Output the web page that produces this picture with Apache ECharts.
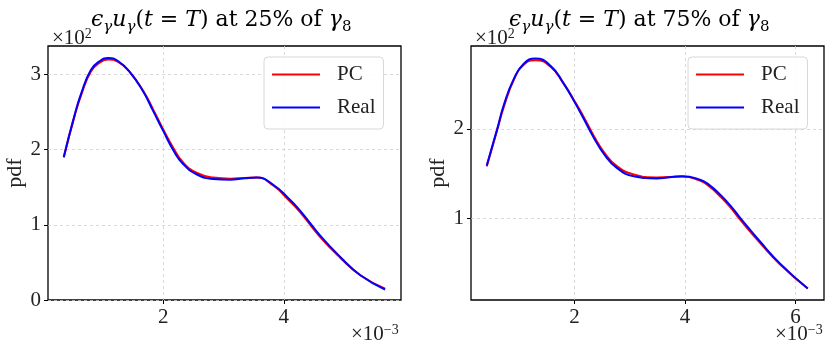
<!DOCTYPE html>
<html>
<head>
<meta charset="utf-8">
<script src="https://cdn.jsdelivr.net/npm/echarts@6/dist/echarts.min.js"></script>
<style>
  html, body { margin: 0; padding: 0; background: #fff; }
  #chart { width: 830px; height: 358px; }
</style>
</head>
<body>
<div id="chart"></div>
<script>
// x values in units of 1e-3, pdf values in units of 1e2
const leftX    = [0.35, 0.53, 0.64, 0.80, 0.95, 1.09, 1.25, 1.45, 1.67, 1.83, 2.00, 2.17, 2.33, 2.56, 2.83, 3.11, 3.35, 3.55, 3.83, 4.08, 4.27, 4.60, 4.94, 5.27, 5.68];
const leftReal = [1.90, 2.46, 2.75, 3.06, 3.18, 3.22, 3.18, 3.03, 2.77, 2.52, 2.25, 1.99, 1.81, 1.67, 1.61, 1.60, 1.62, 1.63, 1.53, 1.35, 1.19, 0.86, 0.57, 0.33, 0.14];
const leftPC   = [1.90, 2.45, 2.73, 3.04, 3.16, 3.20, 3.17, 3.03, 2.78, 2.54, 2.27, 2.02, 1.83, 1.69, 1.63, 1.615, 1.625, 1.63, 1.52, 1.33, 1.17, 0.84, 0.56, 0.33, 0.15];

const rightX    = [0.41, 0.60, 0.72, 0.90, 1.08, 1.29, 1.56, 1.80, 2.00, 2.16, 2.34, 2.53, 2.77, 3.07, 3.49, 3.95, 4.27, 4.44, 4.64, 4.82, 5.00, 5.36, 5.72, 6.22];
const rightReal = [1.59, 2.00, 2.27, 2.56, 2.73, 2.79, 2.71, 2.51, 2.30, 2.12, 1.91, 1.72, 1.56, 1.47, 1.445, 1.47, 1.43, 1.37, 1.26, 1.14, 1.00, 0.735, 0.49, 0.21];
const rightPC   = [1.58, 1.99, 2.25, 2.55, 2.72, 2.77, 2.70, 2.51, 2.31, 2.14, 1.93, 1.74, 1.58, 1.49, 1.455, 1.465, 1.42, 1.355, 1.24, 1.12, 0.98, 0.72, 0.48, 0.21];

const leftXTicks = [2, 4];
const leftYTicks = [0, 1, 2, 3];
const rightXTicks = [2, 4, 6];
const rightYTicks = [1, 2];

const zip = (xs, ys) => xs.map((x, i) => [x, ys[i]]);

const font = 'Liberation Serif';
const tfont = 'DejaVu Serif';
const rich = {
  r:   { fontFamily: tfont, fontSize: 22, lineHeight: 30, fontWeight: 'normal', color: '#000' },
  i:   { fontFamily: tfont, fontSize: 22, lineHeight: 30, fontWeight: 'normal', fontStyle: 'italic', color: '#000' },
  sub: { fontFamily: tfont, fontSize: 15, lineHeight: 14, fontWeight: 'normal', verticalAlign: 'bottom', fontStyle: 'italic', color: '#000' },
  subr:{ fontFamily: tfont, fontSize: 15, lineHeight: 14, fontWeight: 'normal', verticalAlign: 'bottom', color: '#000' },
  o:   { fontFamily: font, fontSize: 21, lineHeight: 22, fontWeight: 'normal', color: '#222' },
  sup: { fontFamily: font, fontSize: 14, lineHeight: 14, fontWeight: 'normal', verticalAlign: 'top', color: '#222' }
};

function titleText(pct) {
  return '{i|ϵ}{sub|γ}{i|u}{sub|γ}{r|(}{i|t}{r| = }{i|T}{r|) at ' + pct + '% of }{i|γ}{subr|8}';
}

function xAxis(gridIndex, min, max, ticks) {
  return {
    type: 'value', gridIndex, min, max,
    axisLine: { show: false },
    axisTick: { show: true, inside: false, length: 4, customValues: ticks, lineStyle: { color: '#000', width: 1 } },
    axisLabel: { customValues: ticks, margin: 7, fontFamily: font, fontSize: 21, color: '#222' },
    splitLine: { show: true, lineStyle: { color: '#d0d0d0', type: [3, 3], width: 0.8 } }
  };
}

function yAxis(gridIndex, min, max, ticks, gap) {
  return {
    type: 'value', gridIndex, min, max,
    name: 'pdf', nameLocation: 'middle', nameGap: gap, nameRotate: 90,
    nameTextStyle: { fontFamily: font, fontSize: 22, color: '#222' },
    axisLine: { show: false },
    axisTick: { show: true, inside: false, length: 4, customValues: ticks, lineStyle: { color: '#000', width: 1 } },
    axisLabel: { customValues: ticks, margin: 7, fontFamily: font, fontSize: 21, color: '#222' },
    splitLine: { show: true, lineStyle: { color: '#d0d0d0', type: [3, 3], width: 0.8 } }
  };
}

function line(name, data, color, idx, z) {
  return {
    name, type: 'line', data, xAxisIndex: idx, yAxisIndex: idx,
    smooth: 0.5, symbol: 'none', z,
    lineStyle: { color, width: 2 }, itemStyle: { color }
  };
}

function legend(left) {
  return {
    left, top: 57, orient: 'vertical',
    data: ['PC', 'Real'],
    icon: 'rect',
    itemWidth: 48, itemHeight: 2, itemGap: 12,
    padding: [7, 8, 11, 8],
    borderColor: '#d8d8d8', borderWidth: 1, borderRadius: 4,
    backgroundColor: 'rgba(255,255,255,0.85)',
    textStyle: { fontFamily: font, fontSize: 21, color: '#222', lineHeight: 20, padding: [0, 0, 0, 12] }
  };
}

const chart = echarts.init(document.getElementById('chart'), null, { renderer: 'canvas' });

chart.setOption({
  animation: false,
  backgroundColor: '#fff',
  title: [
    { text: titleText(25), left: 86, top: 0, textStyle: { rich } },
    { text: titleText(75), left: 504, top: 0, textStyle: { rich } },
    { text: '{o|×10}{sup|2}', left: 47, top: 22, textStyle: { rich } },
    { text: '{o|×10}{sup|2}', left: 470, top: 22, textStyle: { rich } },
    { text: '{o|×10}{sup|−3}', left: 346, top: 318, textStyle: { rich } },
    { text: '{o|×10}{sup|−3}', left: 770, top: 318, textStyle: { rich } }
  ],
  legend: [legend(264), legend(688)],
  grid: [
    { left: 48, right: 429, top: 46, bottom: 58, show: true, borderColor: '#000', borderWidth: 1.3, backgroundColor: 'transparent' },
    { left: 471, right: 6, top: 46, bottom: 58, show: true, borderColor: '#000', borderWidth: 1.3, backgroundColor: 'transparent' }
  ],
  xAxis: [
    xAxis(0, 0.089, 5.944, leftXTicks),
    xAxis(1, 0.125, 6.514, rightXTicks)
  ],
  yAxis: [
    yAxis(0, 0, 3.38, leftYTicks, 21),
    yAxis(1, 0.082, 2.929, rightYTicks, 22)
  ],
  series: [
    line('PC', zip(leftX, leftPC), '#ff0000', 0, 2),
    line('Real', zip(leftX, leftReal), '#0000ff', 0, 3),
    line('PC', zip(rightX, rightPC), '#ff0000', 1, 2),
    line('Real', zip(rightX, rightReal), '#0000ff', 1, 3)
  ]
});
</script>
</body>
</html>
